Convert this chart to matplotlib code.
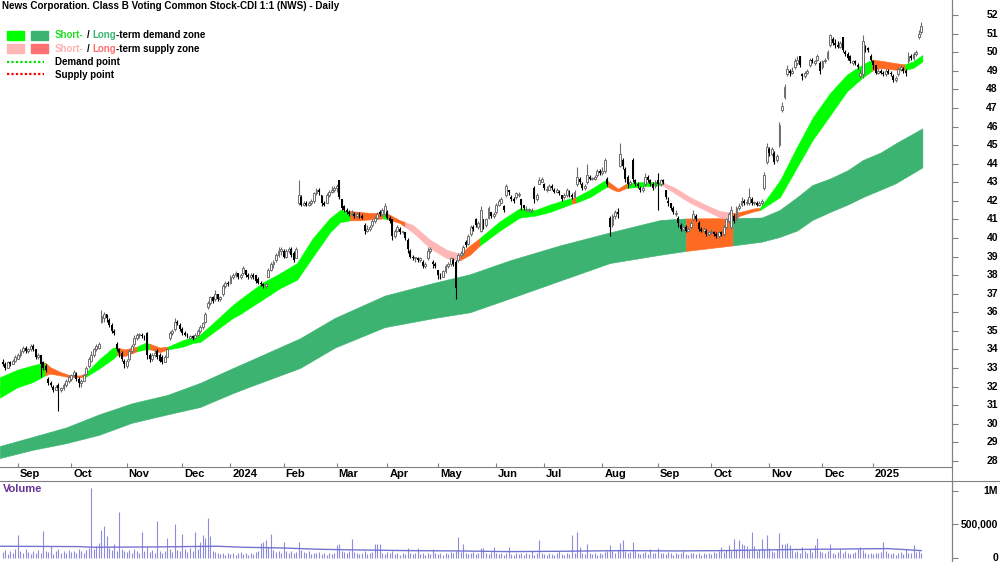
import numpy as np
import pandas as pd
import matplotlib
matplotlib.use("Agg")
import matplotlib.pyplot as plt
from matplotlib.patches import Rectangle
from matplotlib.lines import Line2D

plt.rcParams['font.family'] = ['Liberation Sans', 'DejaVu Sans']

# ---------------- data ----------------
holidays = ['2023-12-25', '2023-12-26', '2024-01-01', '2024-01-26', '2024-03-29',
            '2024-04-01', '2024-04-25', '2024-06-10', '2024-12-25', '2024-12-26',
            '2025-01-01', '2025-01-27']

opens = [
    33.3, 33.2, 33.0, 33.3, 33.2, 33.4,
    33.5, 33.7, 33.9, 34.1, 33.9, 34.0, 34.2, 34.0, 33.6, 33.7, 33.3, 33.1, 32.4, 32.2, 32.0, 31.8, 32.1, 31.8, 31.9, 32.1, 32.3,
    32.4, 32.6, 32.7, 32.4, 32.2, 32.3, 32.7, 33.1, 33.4, 33.7, 34.0, 34.1, 35.5, 35.7, 35.9, 35.6, 35.3, 35.0, 34.3, 34.0, 33.8, 33.4,
    33.1, 33.5, 33.9, 34.3, 34.6, 34.8, 34.8, 34.7, 34.9, 33.7, 33.5, 33.7, 33.9, 33.7, 33.6, 33.3, 33.6, 34.6, 34.9, 35.1, 35.5, 35.3,
    35.1, 34.9, 34.8, 34.6, 34.7, 34.6, 34.8, 35.0, 35.2, 35.5, 36.3, 36.5, 36.8, 36.7, 37.0, 36.7, 37.0, 37.4, 37.6,
    37.6, 37.9, 38.0, 38.1, 37.9, 38.1, 38.3, 38.0, 37.9, 38.0, 38.0, 37.8, 37.6, 37.5, 37.4, 37.9, 38.3, 38.6, 38.8, 39.1, 39.3,
    39.3, 39.0, 39.3, 39.4, 39.2, 38.9, 41.9, 42.2, 41.8, 41.9, 41.8, 41.9, 42.0, 42.4, 42.6, 42.3, 41.9, 41.9, 42.3, 42.5, 42.6,
    42.7, 43.1, 42.1, 41.7, 41.5, 41.4, 41.3, 41.3, 41.2, 41.3, 41.2, 40.7, 40.4, 40.5, 40.7, 40.9, 41.1, 41.4, 41.3, 41.3,
    41.4, 41.1, 41.0, 40.1, 40.4, 40.5, 40.3, 40.3, 39.9, 39.3, 39.0, 38.9, 38.9, 38.8, 38.7, 38.5, 38.9, 39.3, 38.7, 38.6,
    38.3, 38.0, 37.9, 38.2, 38.5, 38.6, 38.8, 38.7, 38.8, 39.1, 39.2, 39.8, 39.7, 40.2, 40.6, 41.0, 40.6, 40.4, 41.0, 40.7, 41.1, 41.4, 41.2,
    41.4, 41.8, 41.9, 41.7, 42.3, 42.6, 42.2, 42.1, 42.2, 42.3, 42.1, 41.8, 41.5, 41.5, 41.4, 42.7, 42.1, 42.9, 43.0,
    42.9, 42.6, 42.6, 42.8, 42.6, 42.5, 42.5, 42.3, 42.2, 42.3, 42.5, 42.3, 42.2, 42.9, 43.2, 42.9, 42.7, 43.0, 43.3, 43.2, 43.2, 43.4, 43.6,
    43.5, 43.6, 43.2, 41.1, 40.7, 41.2, 41.4, 43.9, 44.2, 43.7, 43.3, 42.9, 44.2, 43.1, 42.9, 42.7, 42.6, 42.9, 43.3, 43.1, 42.9, 42.8,
    43.1, 42.9, 43.1, 42.6, 42.0, 41.9, 41.6, 41.3, 41.1, 40.7, 40.5, 40.6, 40.4, 40.6, 41.0, 41.2, 40.8, 40.5, 40.4, 40.4, 40.2,
    40.3, 40.3, 40.2, 40.1, 40.3, 40.2, 40.6, 40.9, 40.6, 41.2, 41.0, 41.6, 41.8, 42.0, 41.9, 41.9, 42.1, 41.9, 41.9, 41.8, 41.9, 42.7, 44.1,
    44.8, 44.5, 44.6, 44.2, 45.0, 46.9, 47.6, 48.8, 49.0, 48.9, 49.2, 49.4, 49.8, 48.8, 48.7, 48.9, 49.3, 49.6, 49.4, 49.6, 49.4,
    49.2, 49.5, 49.7, 50.4, 50.7, 50.5, 50.4, 50.3, 50.8, 50.0, 49.9, 49.8, 49.4, 49.5, 49.3, 48.7, 48.8, 50.3, 50.2, 49.8,
    49.5, 49.3, 48.9, 49.0, 48.9, 48.8, 49.0, 48.9, 48.7, 48.5, 48.8, 49.1, 49.1, 49.0, 49.5, 49.8, 49.7, 49.9, 50.8, 51.1,
]

highs = [
    33.5, 33.3, 33.4, 33.4, 33.5, 33.7,
    33.8, 34.0, 34.2, 34.2, 34.1, 34.3, 34.3, 34.0, 33.8, 33.7, 33.4, 33.2, 32.5, 32.3, 32.1, 32.1, 32.2, 32.0, 32.2, 32.4, 32.6,
    32.7, 32.9, 32.8, 32.5, 32.4, 32.7, 33.1, 33.6, 33.9, 34.1, 34.3, 34.4, 36.1, 36.0, 35.9, 35.7, 35.4, 35.1, 34.4, 34.1, 33.9, 33.5,
    33.5, 34.0, 34.3, 34.8, 34.9, 34.9, 34.9, 34.8, 34.95, 33.8, 33.8, 34.0, 34.0, 33.8, 33.7, 33.7, 34.1, 35.0, 35.1, 35.7, 35.6, 35.4,
    35.2, 35.0, 34.9, 34.8, 34.8, 34.9, 35.1, 35.3, 35.5, 36.0, 36.6, 36.9, 36.9, 37.2, 37.0, 36.9, 37.5, 37.7, 37.7,
    38.0, 38.1, 38.2, 38.1, 38.1, 38.5, 38.3, 38.1, 38.1, 38.1, 38.0, 37.9, 37.7, 37.6, 37.6, 38.4, 38.7, 38.8, 39.2, 39.5, 39.5,
    39.4, 39.4, 39.5, 39.5, 39.3, 39.5, 43.1, 42.3, 42.0, 42.0, 42.0, 42.1, 42.5, 42.7, 42.7, 42.3, 42.0, 42.4, 42.6, 42.8, 42.8,
    42.9, 43.1, 42.1, 41.8, 41.6, 41.5, 41.5, 41.4, 41.4, 41.4, 41.3, 40.8, 40.7, 40.7, 41.0, 41.2, 41.4, 41.5, 41.6, 41.9,
    41.5, 41.2, 41.0, 40.5, 40.7, 40.6, 40.4, 40.3, 40.0, 39.4, 39.1, 39.0, 39.0, 39.0, 38.8, 38.7, 39.5, 39.5, 38.8, 38.7,
    38.3, 38.1, 38.3, 38.6, 38.7, 39.0, 38.9, 38.8, 39.2, 39.3, 39.6, 39.9, 40.2, 40.7, 40.7, 41.1, 40.9, 41.7, 41.0, 41.1, 41.7, 41.4, 41.4,
    41.9, 42.1, 42.2, 41.8, 42.9, 42.6, 42.3, 42.2, 42.5, 42.5, 42.1, 41.8, 41.7, 41.6, 41.6, 42.8, 42.4, 43.3, 43.3,
    42.95, 42.8, 42.9, 42.9, 42.7, 42.7, 42.6, 42.3, 42.4, 42.7, 42.6, 42.4, 42.6, 43.8, 43.3, 43.0, 42.9, 44.0, 43.4, 43.3, 43.4, 43.7, 43.7,
    43.8, 44.3, 43.3, 41.2, 41.3, 41.5, 41.6, 45.1, 44.3, 43.8, 43.4, 43.1, 44.3, 43.2, 43.0, 42.8, 42.8, 43.5, 43.4, 43.2, 43.0, 43.1,
    43.5, 43.2, 43.2, 42.6, 42.2, 41.9, 41.7, 41.5, 41.2, 40.8, 40.7, 40.7, 40.6, 40.9, 41.5, 41.3, 40.9, 40.6, 40.6, 40.5, 40.4,
    40.5, 40.4, 40.3, 40.4, 40.4, 40.7, 41.1, 41.4, 41.7, 41.3, 41.7, 41.9, 42.2, 42.1, 42.1, 42.7, 42.2, 42.0, 42.0, 42.0, 42.1, 43.55, 45.1,
    44.9, 44.9, 44.7, 44.5, 46.25, 47.3, 48.3, 49.3, 49.1, 49.2, 49.7, 49.8, 49.8, 48.9, 49.0, 49.1, 49.7, 49.7, 49.6, 49.9, 49.5,
    49.6, 49.7, 50.1, 51.0, 50.8, 50.7, 50.6, 50.6, 50.8, 50.1, 50.0, 49.85, 49.6, 49.6, 49.4, 49.1, 50.9, 50.4, 50.3, 49.9,
    49.6, 49.3, 49.1, 49.1, 49.0, 49.1, 49.1, 49.0, 48.8, 48.7, 49.2, 49.3, 49.2, 49.1, 50.0, 49.9, 50.0, 50.1, 51.2, 51.6,
]

lows = [
    33.1, 32.9, 33.0, 33.1, 33.2, 33.3,
    33.5, 33.6, 33.8, 33.8, 33.8, 33.9, 33.9, 33.5, 33.5, 32.5, 32.9, 32.8, 32.1, 32.0, 31.7, 31.8, 30.7, 31.7, 31.8, 32.0, 32.2,
    32.3, 32.5, 32.3, 32.0, 32.0, 32.3, 32.6, 33.0, 33.3, 33.6, 33.9, 34.0, 35.4, 35.5, 35.5, 35.2, 34.9, 34.8, 33.9, 33.6, 33.4, 33.0,
    33.0, 33.4, 33.8, 34.2, 34.5, 34.6, 34.6, 34.5, 33.5, 33.3, 33.4, 33.6, 33.5, 33.3, 33.2, 33.3, 33.6, 34.5, 34.8, 35.0, 35.3, 35.0,
    34.8, 34.7, 34.6, 34.6, 34.5, 34.6, 34.7, 34.9, 35.1, 35.4, 36.2, 36.4, 36.5, 36.6, 36.6, 36.6, 36.9, 37.3, 37.4,
    37.5, 37.8, 37.9, 37.8, 37.8, 38.0, 37.9, 37.8, 37.8, 37.8, 37.6, 37.5, 37.4, 37.3, 37.3, 37.9, 38.2, 38.4, 38.7, 39.0, 39.1,
    38.9, 38.9, 39.2, 39.0, 38.7, 38.9, 41.8, 41.7, 41.7, 41.7, 41.7, 41.8, 41.9, 42.3, 42.3, 41.7, 41.7, 41.9, 42.2, 42.4, 42.5,
    42.5, 42.1, 41.5, 41.4, 41.3, 41.2, 41.2, 41.1, 41.1, 41.1, 41.0, 40.2, 40.3, 40.4, 40.6, 40.8, 41.0, 41.2, 41.2, 41.2,
    41.0, 40.8, 39.9, 40.0, 40.3, 40.2, 40.2, 39.9, 39.2, 38.9, 38.8, 38.7, 38.7, 38.7, 38.4, 38.4, 38.8, 39.2, 38.4, 38.4,
    37.8, 37.8, 37.9, 38.1, 38.4, 38.5, 38.5, 36.7, 38.7, 39.0, 39.1, 39.5, 39.6, 40.1, 40.4, 40.6, 40.5, 40.3, 40.5, 40.6, 41.0, 41.1, 41.1,
    41.3, 41.7, 41.9, 41.4, 42.2, 42.3, 42.0, 41.9, 42.1, 42.2, 41.5, 41.5, 41.4, 41.4, 41.4, 41.9, 42.0, 42.9, 43.0,
    42.6, 42.5, 42.6, 42.6, 42.4, 42.4, 42.3, 42.0, 42.1, 42.2, 42.2, 42.1, 42.2, 42.8, 42.9, 42.6, 42.6, 42.9, 43.1, 43.1, 43.1, 43.3, 43.4,
    43.4, 43.5, 42.8, 40.1, 40.6, 41.0, 41.1, 43.8, 43.7, 43.0, 42.7, 42.8, 43.0, 42.8, 42.7, 42.5, 42.5, 42.8, 43.0, 42.8, 42.6, 42.7,
    41.5, 42.8, 42.9, 42.1, 41.7, 41.5, 41.3, 41.2, 40.6, 40.4, 40.4, 40.3, 40.3, 40.5, 40.9, 40.9, 40.4, 40.3, 40.3, 40.1, 40.1,
    40.2, 40.1, 40.0, 40.0, 40.1, 40.1, 40.5, 40.8, 40.5, 40.8, 40.9, 41.5, 41.7, 41.8, 41.8, 41.8, 41.8, 41.8, 41.7, 41.7, 41.8, 42.6, 44.0,
    44.4, 44.4, 44.0, 44.1, 44.9, 46.8, 47.5, 48.7, 48.7, 48.8, 49.1, 49.3, 49.2, 48.5, 48.6, 48.8, 49.2, 49.4, 49.3, 49.5, 48.8,
    49.1, 49.4, 49.6, 50.3, 50.4, 50.2, 50.2, 50.2, 50.0, 49.8, 49.6, 49.4, 49.3, 49.3, 49.1, 48.6, 48.6, 50.0, 50.0, 49.5,
    49.1, 48.8, 48.8, 48.8, 48.7, 48.7, 48.8, 48.7, 48.4, 48.4, 48.7, 49.0, 48.9, 48.7, 49.4, 49.6, 49.6, 49.8, 50.7, 51.0,
]

closes = [
    33.2, 33.0, 33.3, 33.2, 33.4, 33.6,
    33.7, 33.9, 34.1, 33.9, 34.0, 34.2, 34.0, 33.6, 33.7, 33.2, 33.0, 32.9, 32.2, 32.1, 31.8, 32.0, 31.9, 31.9, 32.1, 32.3, 32.5,
    32.6, 32.8, 32.4, 32.2, 32.3, 32.6, 33.0, 33.5, 33.7, 34.0, 34.2, 34.3, 35.8, 35.9, 35.7, 35.3, 35.0, 34.9, 34.0, 33.8, 33.5, 33.2,
    33.4, 33.9, 34.2, 34.6, 34.8, 34.8, 34.7, 34.6, 33.7, 33.5, 33.7, 33.8, 33.6, 33.4, 33.3, 33.6, 34.0, 34.9, 35.0, 35.5, 35.4, 35.1,
    34.9, 34.8, 34.7, 34.7, 34.6, 34.8, 35.0, 35.2, 35.4, 35.9, 36.5, 36.8, 36.6, 37.0, 36.7, 36.8, 37.4, 37.6, 37.5,
    37.9, 38.0, 38.1, 37.9, 38.0, 38.4, 38.0, 37.9, 38.0, 37.9, 37.7, 37.6, 37.5, 37.4, 37.5, 38.3, 38.6, 38.7, 39.1, 39.3, 39.4,
    39.0, 39.3, 39.4, 39.1, 38.8, 39.4, 42.3, 41.8, 41.9, 41.8, 41.9, 42.0, 42.4, 42.6, 42.5, 41.9, 41.8, 42.3, 42.5, 42.6, 42.7,
    42.8, 42.2, 41.6, 41.5, 41.4, 41.3, 41.3, 41.2, 41.3, 41.2, 41.1, 40.4, 40.5, 40.6, 40.9, 41.1, 41.3, 41.3, 41.5, 41.7,
    41.1, 40.9, 40.1, 40.4, 40.6, 40.3, 40.3, 40.0, 39.4, 39.0, 38.9, 38.9, 38.8, 38.9, 38.5, 38.6, 39.3, 39.4, 38.6, 38.5,
    38.0, 37.9, 38.2, 38.5, 38.6, 38.9, 38.6, 37.3, 39.1, 39.2, 39.5, 39.6, 40.1, 40.6, 40.5, 40.7, 40.8, 41.5, 40.7, 41.0, 41.6, 41.2, 41.3,
    41.8, 42.0, 42.1, 41.5, 42.8, 42.5, 42.1, 42.0, 42.4, 42.3, 41.8, 41.6, 41.5, 41.5, 41.5, 42.1, 42.3, 43.1, 43.2,
    42.7, 42.6, 42.8, 42.7, 42.5, 42.6, 42.4, 42.1, 42.3, 42.6, 42.4, 42.2, 42.5, 43.3, 43.0, 42.7, 42.8, 43.4, 43.2, 43.2, 43.3, 43.6, 43.5,
    43.6, 44.2, 42.9, 40.6, 41.2, 41.4, 41.3, 44.5, 43.9, 43.2, 42.9, 43.0, 43.2, 42.9, 42.8, 42.6, 42.7, 43.3, 43.1, 42.9, 42.7, 43.0,
    42.9, 43.1, 43.0, 42.2, 41.9, 41.6, 41.4, 41.3, 40.8, 40.5, 40.6, 40.4, 40.5, 40.8, 41.3, 41.0, 40.5, 40.4, 40.5, 40.2, 40.3,
    40.3, 40.2, 40.1, 40.3, 40.2, 40.6, 41.0, 41.3, 41.5, 40.9, 41.6, 41.7, 42.0, 41.9, 41.9, 42.2, 41.9, 41.9, 41.8, 41.9, 42.0, 43.4, 44.9,
    44.6, 44.8, 44.1, 44.4, 46.1, 47.1, 48.1, 49.1, 48.9, 49.0, 49.5, 49.6, 49.3, 48.7, 48.9, 49.0, 49.6, 49.5, 49.5, 49.8, 49.0,
    49.5, 49.6, 50.0, 50.9, 50.5, 50.4, 50.3, 50.5, 50.1, 49.9, 49.7, 49.5, 49.5, 49.4, 49.2, 48.9, 50.6, 50.2, 50.1, 49.6,
    49.3, 48.9, 49.0, 48.9, 48.8, 49.0, 48.9, 48.8, 48.5, 48.6, 49.1, 49.2, 49.0, 48.9, 49.8, 49.7, 49.9, 50.0, 51.0, 51.4,
]

# volume in thousands of shares
volume_k = [
    90, 120, 60, 110, 80, 140,
    345, 100, 70, 130, 90, 60, 110, 80, 120, 70, 405, 100, 90, 180, 60, 110, 140, 80, 100, 70, 120,
    90, 110, 70, 130, 100, 80, 120, 150, 1050, 130, 180, 225, 420, 480, 330, 150, 120, 210, 110, 690, 140, 100,
    90, 120, 80, 130, 100, 70, 390, 110, 160, 90, 120, 80, 555, 100, 70, 110, 300, 140, 90, 510, 120, 100,
    360, 130, 90, 150, 110, 390, 140, 240, 345, 300, 600, 330, 110, 90, 70, 60, 80, 50, 70,
    60, 80, 50, 70, 90, 60, 80, 50, 70, 60, 90, 110, 225, 240, 270, 160, 360, 120, 90, 110, 80,
    240, 110, 80, 100, 70, 90, 240, 120, 90, 70, 100, 60, 80, 70, 90, 60, 80, 50, 70, 60, 80,
    195, 210, 110, 90, 70, 100, 285, 90, 70, 60, 80, 100, 60, 70, 90, 210, 210, 210, 80, 60,
    90, 70, 100, 60, 80, 50, 70, 60, 150, 80, 60, 70, 150, 60, 80, 50, 70, 60, 135, 70,
    60, 80, 50, 70, 60, 90, 70, 100, 315, 90, 210, 80, 60, 70, 90, 60, 80, 150, 150, 70, 60, 90, 165,
    70, 60, 80, 50, 70, 165, 60, 50, 70, 60, 80, 50, 70, 60, 105, 50, 70, 270, 80,
    60, 50, 70, 60, 40, 70, 105, 60, 50, 70, 60, 345, 80, 390, 165, 70, 60, 210, 80, 60, 70, 50, 80,
    60, 90, 110, 195, 100, 80, 120, 225, 270, 110, 80, 90, 240, 100, 70, 60, 80, 90, 60, 135, 70, 80,
    150, 70, 80, 60, 90, 70, 50, 80, 60, 70, 105, 60, 50, 80, 70, 60, 80, 50, 70, 60, 80,
    60, 90, 70, 110, 165, 90, 120, 195, 100, 285, 130, 270, 210, 195, 180, 120, 390, 180, 110, 140, 285, 130, 345,
    150, 110, 90, 130, 375, 210, 210, 225, 195, 120, 90, 110, 80, 165, 100, 70, 135, 90, 195, 300, 110,
    90, 70, 100, 210, 80, 60, 90, 135, 70, 100, 80, 60, 70, 90, 135, 165, 120, 80, 60, 70,
    60, 80, 70, 90, 240, 100, 70, 60, 80, 50, 70, 90, 60, 135, 80, 70, 195, 90, 105, 75,
]

# volume moving-average line (thousands), read at sample days
vma_x = [-1.2, 30, 36, 60, 85, 95, 110, 125, 140, 160, 180, 200, 220, 245, 265, 285, 310, 335, 350, 363]
vma_k = [175, 170, 160, 165, 175, 160, 150, 130, 120, 110, 105, 95, 100, 110, 105, 110, 125, 135, 140, 110]

# short-term zone band (read at sample days); colour of the stretch that starts at each sample
st_x = [-1.2, 5.6, 12, 16.7, 18.7, 22.6, 26.6, 30.5, 32.5, 38.4, 43.6, 45.1, 48.3, 53, 56.2, 58.2, 62.1, 65.3, 71.2, 75.2,
        78, 83, 91, 93.8, 102.8, 109.6, 116.3, 122.6, 129.3, 133.3, 137.2, 141.2, 145.1, 150.3, 152.3, 157, 159, 162.1, 168.9, 175.6,
        180.7, 184.7, 188.6, 196.5, 204.4, 210.4, 216.3, 222.2, 225, 226.6, 232.1, 238, 239.2, 241.2, 243.2, 246.7, 251.9, 257.8, 260.6, 265.7,
        271.6, 277.6, 283.5, 288.6, 291.4, 297.3, 299.3, 307.2, 313.9, 320.2, 327, 333.7, 340, 343.6, 346.7, 353.4, 356.6, 359.8, 363.5]
st_upper = [32.5, 32.9, 33.15, 33.3, 33.05, 32.8, 32.6, 32.6, 32.7, 33.5, 34.1, 34.1, 34.0, 34.15, 34.35, 34.3, 34.1, 34.15, 34.5, 34.65,
            34.8, 35.4, 36.4, 36.7, 37.6, 38.1, 38.65, 40.0, 41.07, 41.5, 41.45, 41.4, 41.35, 41.35, 41.3, 40.95, 40.85, 40.7, 39.9, 39.35,
            39.15, 39.6, 40.0, 40.9, 41.6, 41.5, 41.8, 42.05, 42.15, 42.2, 42.6, 43.1, 43.05, 42.85, 42.65, 42.95, 43.0, 43.0, 43.0, 42.7,
            42.2, 41.8, 41.45, 41.35, 41.4, 41.6, 41.62, 43.1, 44.9, 46.5, 47.8, 48.8, 49.35, 49.6, 49.55, 49.4, 49.35, 49.5, 49.85]
st_lower = [31.4, 31.95, 32.25, 32.6, 32.7, 32.6, 32.5, 32.5, 32.5, 33.0, 33.5, 33.7, 33.65, 33.9, 34.0, 34.0, 33.85, 34.0, 34.15, 34.35,
            34.4, 34.9, 35.7, 35.9, 36.7, 37.3, 37.75, 39.0, 40.3, 40.85, 40.95, 40.95, 41.0, 41.05, 41.0, 40.8, 40.6, 40.3, 39.45, 38.9,
            38.8, 39.1, 39.6, 40.4, 41.1, 41.2, 41.4, 41.7, 41.85, 41.9, 42.2, 42.7, 42.75, 42.6, 42.5, 42.7, 42.75, 42.85, 42.85, 42.4,
            41.9, 41.5, 41.1, 40.97, 41.2, 41.45, 41.5, 42.2, 43.8, 45.3, 46.6, 47.9, 48.65, 49.0, 49.15, 49.05, 49.05, 49.15, 49.5]
st_state = list("gggooooogggoogg" "oogggggggggggggooogoopppp" "oogggggg" "ogggooogggppppp" "ooogggggggooo" "ggg")

# long-term zone band
lt_x = [-1.2, 12, 25, 38, 51, 65, 78, 91, 97.7, 117.5, 131.3, 151, 170.8, 184.7, 200.5, 220.2, 240, 260, 270, 288.6,
        300, 307, 314, 320, 327, 334, 340, 347, 353, 363.5]
lt_upper = [28.8, 29.3, 29.8, 30.5, 31.1, 31.55, 32.2, 33.0, 33.4, 34.6, 35.7, 36.9, 37.6, 38.05, 38.8, 39.6, 40.3, 40.97, 41.05, 41.07,
            41.1, 41.5, 42.2, 42.85, 43.2, 43.65, 44.2, 44.6, 45.1, 45.9]
lt_lower = [28.15, 28.6, 28.95, 29.4, 30.05, 30.5, 30.9, 31.65, 32.0, 33.0, 34.1, 35.2, 35.7, 36.0, 36.75, 37.7, 38.65, 39.1, 39.3, 39.6,
            39.8, 40.05, 40.4, 40.97, 41.4, 41.8, 42.2, 42.6, 42.95, 43.8]
lt_state = list("g" * 18 + "o" + "g" * 11)

month_labels = ['Sep', 'Oct', 'Nov', 'Dec', '2024', 'Feb', 'Mar', 'Apr', 'May', 'Jun', 'Jul',
                'Aug', 'Sep', 'Oct', 'Nov', 'Dec', '2025']
price_ticks = list(range(28, 53))

# ---------------- layout ----------------
W, H = 1000, 562
C_SHORT_DEM = '#00FF00'
C_LONG_DEM = '#3CB371'
C_SHORT_SUP = '#FFB6B6'
C_LONG_SUP = '#FF7070'
C_MIX = '#FF6A22'
GRAY = '#808080'
zone_col = {'g': C_SHORT_DEM, 'o': C_MIX, 'p': C_SHORT_SUP}

dates = pd.bdate_range('2023-08-24', '2025-01-30')
dates = dates[~dates.isin(pd.to_datetime(holidays))]
n = len(closes)
dates = dates[:n]
x = np.arange(n)
o = np.array(opens); h = np.array(highs); l = np.array(lows); c = np.array(closes)

fig = plt.figure(figsize=(W / 100, H / 100), dpi=100)
PR_BOTTOM = 467
ax = fig.add_axes([0, (H - PR_BOTTOM) / H, 952 / W, PR_BOTTOM / H])
axv = fig.add_axes([0, 0, 952 / W, 81 / H])
XL = (-1.1, 375.2)
YL = (27.67, 52.81)
ax.set_xlim(*XL)
ax.set_ylim(*YL)


def draw_band(axis, xs, ups, los, states, cmap):
    i = 0
    while i < len(xs) - 1:
        j = i
        while j + 1 < len(xs) - 1 and states[j + 1] == states[i]:
            j += 1
        seg = slice(i, j + 2)
        axis.fill_between(xs[seg], los[seg], ups[seg], color=cmap[states[i]], lw=0.4,
                          edgecolor=cmap[states[i]], zorder=1)
        i = j + 1


draw_band(ax, lt_x, lt_upper, lt_lower, lt_state, {'g': C_LONG_DEM, 'o': C_MIX})
draw_band(ax, st_x, st_upper, st_lower, st_state, zone_col)

# candles
up = c >= o
bw = 0.75
ax.vlines(x[up], l[up], h[up], color='#6E6E6E', lw=0.8, zorder=3)
ax.vlines(x[~up], l[~up], h[~up], color='black', lw=0.8, zorder=3)
bh = np.maximum(np.abs(c - o), 0.05)
bb = np.minimum(o, c)
ax.bar(x[up], bh[up], bottom=bb[up], width=bw, facecolor='white', edgecolor='#6E6E6E', lw=0.7, zorder=4)
ax.bar(x[~up], bh[~up], bottom=bb[~up], width=bw, color='black', lw=0, zorder=4)

# axes styling
for s in ['left', 'top']:
    ax.spines[s].set_visible(False)
    axv.spines[s].set_visible(False)
axv.spines['bottom'].set_visible(False)
ax.spines['bottom'].set_color(GRAY)
ax.spines['right'].set_color(GRAY)
axv.spines['right'].set_color(GRAY)

month_idx = [i for i in range(1, n) if dates[i].month != dates[i - 1].month]
ax.set_xticks(month_idx)
ax.tick_params(axis='x', direction='in', length=3, color=GRAY, labelbottom=False)
ax.yaxis.tick_right()
ax.set_yticks(price_ticks)
ax.tick_params(axis='y', direction='out', length=4, color=GRAY, labelright=False)


def px_x(v):
    return (v - XL[0]) / (XL[1] - XL[0]) * 952


def py_price(p):
    return (YL[1] - p) / (YL[1] - YL[0]) * PR_BOTTOM


def ftext(xp, yp, s, **kw):
    return fig.text(xp / W, 1 - yp / H, s, **kw)


for mi, lab in zip(month_idx, month_labels):
    ftext(px_x(mi) + 2, 474, lab, ha='left', va='center', fontsize=8, fontweight='bold')

for p in price_ticks:
    ftext(998, py_price(p), str(p), ha='right', va='center', fontsize=7.5, fontweight='bold')

# volume panel
VYL = (-60000, 1149000)
axv.set_xlim(*XL)
axv.set_ylim(*VYL)
vol = np.array(volume_k) * 1000.0
axv.vlines(x, 0, vol, color='#8C8CDC', lw=0.8)
axv.plot(vma_x, np.array(vma_k) * 1000.0, color='#7474D0', lw=1.0)
axv.set_xticks([])
axv.yaxis.tick_right()
axv.set_yticks([0, 500000, 1000000])
axv.tick_params(axis='y', direction='out', length=4, color=GRAY, labelright=False)
for v, lab in [(0, '0'), (500000, '500,000'), (1000000, '1M')]:
    yp = 481 + (VYL[1] - v) / (VYL[1] - VYL[0]) * 81
    ftext(998, yp, lab, ha='right', va='center', fontsize=7.5, fontweight='bold')
ftext(3, 489, 'Volume', ha='left', va='center', fontsize=8, fontweight='bold', color='#663399')

# separator lines
fig.add_artist(Line2D([0, 1], [1 - 481 / H, 1 - 481 / H], color=GRAY, lw=0.8))
fig.add_artist(Line2D([952 / W, 952 / W], [0, 1], color=GRAY, lw=0.8))

# title
ftext(2, 6, 'News Corporation. Class B Voting Common Stock-CDI 1:1 (NWS) - Daily',
      ha='left', va='center', fontsize=7.1, fontweight='bold')

# legend
fig.add_artist(Rectangle((7 / W, 1 - 40 / H), 17 / W, 9 / H, color=C_SHORT_DEM, transform=fig.transFigure))
fig.add_artist(Rectangle((31 / W, 1 - 40 / H), 17 / W, 9 / H, color=C_LONG_DEM, transform=fig.transFigure))
fig.add_artist(Rectangle((7 / W, 1 - 53 / H), 17 / W, 9 / H, color=C_SHORT_SUP, transform=fig.transFigure))
fig.add_artist(Rectangle((31 / W, 1 - 53 / H), 17 / W, 9 / H, color=C_LONG_SUP, transform=fig.transFigure))
fig.add_artist(Line2D([7 / W, 44 / W], [1 - 62 / H] * 2, color='#00E000', lw=1.6, ls=(0, (1, 1))))
fig.add_artist(Line2D([7 / W, 44 / W], [1 - 74 / H] * 2, color='#FF0000', lw=1.6, ls=(0, (1, 1))))

renderer = fig.canvas.get_renderer()
LEG_FS = 7.0


def rich(xp, yp, parts, gap=3.0):
    cur = xp
    for s, col, g in parts:
        t = ftext(cur, yp, s, ha='left', va='center', fontsize=LEG_FS, fontweight='bold', color=col)
        cur += t.get_window_extent(renderer=renderer).width + (gap if g else 0)


rich(55, 35.5, [('Short-', '#22DD22', True), ('/', 'black', True), ('Long', C_LONG_DEM, False),
                ('-term demand zone', 'black', False)])
rich(55, 48.5, [('Short-', '#FFB0B0', True), ('/', 'black', True), ('Long', C_LONG_SUP, False),
                ('-term supply zone', 'black', False)])
ftext(55, 62, 'Demand point', ha='left', va='center', fontsize=LEG_FS, fontweight='bold')
ftext(55, 74.5, 'Supply point', ha='left', va='center', fontsize=LEG_FS, fontweight='bold')

fig.savefig('out.png', dpi=100)
